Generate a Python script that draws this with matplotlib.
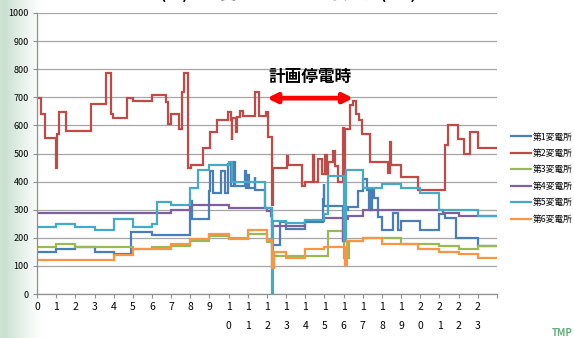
import matplotlib
matplotlib.use("Agg")
import matplotlib.pyplot as plt
import numpy as np

plt.rcParams['font.family'] = ['Noto Sans CJK JP', 'DejaVu Sans']

# hour labels and series names
hours = list(range(24))
names = ["第1変電所", "第2変電所", "第3変電所", "第4変電所", "第5変電所", "第6変電所"]
colors = ["#4A7EBB", "#BE4B48", "#98B954", "#7D60A0", "#46AAC5", "#F79646"]

# step data: time of change (h) and kW from that time on
t1 = [0, 1, 2, 3, 4, 4.92, 6.0, 8.0, 8.07, 9.0, 9.05, 9.2, 9.6, 9.8, 9.95, 10.1, 10.28, 10.34, 10.85, 10.9,
      11.0, 11.05, 11.35, 11.4, 11.9, 12.2, 12.28, 12.7, 13.0, 14.0, 14.9, 14.95, 15.0, 15.97, 16.05, 16.23,
      16.75, 17.0, 17.2, 17.3, 17.35, 17.44, 17.48, 17.6, 17.8, 18.0, 18.57, 18.83, 19.0, 19.96, 21.0, 21.27,
      21.87, 23.0, 24]
kw1 = [149, 159, 168, 149, 141, 220, 209, 330, 268, 365, 436, 359, 436, 359, 462, 383, 470, 383, 436, 376,
       424, 376, 418, 370, 306, 276, 173, 255, 232, 255, 338, 390, 312, 188, 300, 308,
       365, 409, 371, 300, 371, 300, 371, 341, 273, 229, 288, 229, 259, 229, 285, 270,
       200, 171, 171]

t2 = [0, 0.23, 0.4, 0.97, 1.02, 1.15, 1.5, 2.8, 3.58, 3.84, 3.97, 4.71, 5.0, 6.02, 6.75, 6.83, 7.0, 7.41,
      7.58, 7.65, 7.9, 8.05, 8.66, 9.01, 9.39, 9.96, 10.1, 10.15, 10.2, 10.4, 10.45, 10.6, 10.75, 11.35,
      11.6, 11.95, 12.05, 12.25, 12.32, 13.02, 13.08, 13.8, 14.0, 14.38, 14.45, 14.65, 14.85, 15.05, 15.12,
      15.2, 15.45, 15.55, 15.7, 15.97, 16.02, 16.08, 16.35, 16.5, 16.65, 16.8, 16.95, 17.4, 18.3, 18.43,
      18.48, 19.01, 19.88, 21.27, 21.44, 21.96, 22.3, 22.57, 23.0, 24]
kw2 = [698, 639, 556, 447, 570, 647, 579, 676, 786, 639, 627, 698, 686, 708, 682, 606, 639, 588,
       718, 786, 449, 459, 518, 576, 618, 647, 620, 547, 625, 576, 630, 653, 635, 718,
       635, 647, 559, 318, 447, 491, 459, 385, 400, 496, 400, 482, 426, 496, 426,
       470, 510, 455, 400, 590, 400, 588, 671, 688, 641, 618, 571, 471, 429, 541,
       459, 418, 371, 529, 600, 553, 500, 576, 518, 518]

t3 = [0, 1, 2, 5, 6, 7, 8, 9, 10, 11, 12.0, 12.25, 12.3, 15.2, 16.0, 16.3, 17, 19, 21, 22, 23, 24]
kw3 = [168, 179, 168, 161, 168, 171, 188, 206, 200, 212, 185, 125, 136, 224, 129, 188, 200, 179, 171, 159, 171, 171]

t4 = [0, 7, 8, 10, 12.0, 12.25, 14, 15, 15.98, 16.05, 16.23, 17, 21.2, 22, 24]
kw4 = [288, 298, 318, 306, 294, 241, 261, 270, 188, 268, 279, 298, 288, 279, 279]

t5 = [0, 1, 2, 3, 4, 5, 6, 6.25, 7, 8, 8.4, 9, 10, 10.15, 11.9, 12.26, 12.3, 13, 14, 15, 15.2, 16.0,
      16.1, 17, 18, 19, 19.96, 21, 23, 24]
kw5 = [239, 249, 239, 227, 268, 239, 249, 327, 318, 379, 440, 460, 469, 400, 306, 0, 261, 252, 265, 285, 420, 190,
       441, 379, 391, 379, 359, 300, 279, 279]

t6 = [0, 4, 5, 6, 7, 8, 9, 10, 11, 12.0, 12.25, 12.35, 13, 14, 15, 16.05, 16.15, 17, 18, 19.9, 21, 22, 23, 24]
kw6 = [120, 139, 159, 161, 179, 196, 215, 194, 227, 191, 91, 149, 129, 161, 169, 102, 188, 200, 179, 159, 149, 141, 129, 129]

series_t = [t1, t2, t3, t4, t5, t6]
series_kw = [kw1, kw2, kw3, kw4, kw5, kw6]

fig = plt.figure(figsize=(5.74, 3.38), dpi=100)

# slide background strip on the left
bg = fig.add_axes([0, 0, 0.09, 1], zorder=-5)
xs = np.linspace(0, 1, 60)
prof = np.clip(1 - xs / 0.85, 0, 1) ** 1.3
prof[:6] *= np.linspace(0.75, 1, 6)
green = np.array([0.76, 0.86, 0.79])
img = 1 - (1 - green)[None, None, :] * prof[None, :, None]
bg.imshow(np.repeat(img, 2, axis=0), aspect='auto', extent=[0, 1, 0, 1])
bg.axis('off')

ax = fig.add_axes([37 / 574, 44 / 338, 460 / 574, 281 / 338])
ax.set_facecolor('none')

for t, kw, name, c in zip(series_t, series_kw, names, colors):
    ax.step(t, kw, where='post', color=c, lw=1.6, label=name, solid_joinstyle='miter')

ax.set_xlim(0, 24)
ax.set_ylim(0, 1000)
ax.set_yticks(range(0, 1001, 100))
ax.set_xticks(range(0, 25))
xlabels = ["\n".join(str(h)) for h in hours] + [""]
ax.set_xticklabels(xlabels, fontsize=7.5, linespacing=2.1, va='top')
ax.tick_params(axis='x', length=3, width=0.8, color='#909090', pad=3)
ax.tick_params(axis='y', length=3, width=0.8, color='#909090', labelsize=6.5, pad=3)
ax.grid(axis='y', color='#a6a6a6', lw=0.9)
ax.set_axisbelow(True)
for s in ['top', 'right']:
    ax.spines[s].set_visible(False)
for s in ['left', 'bottom']:
    ax.spines[s].set_color('#909090')
    ax.spines[s].set_linewidth(0.9)

# planned outage annotation
ax.annotate("", xy=(12.0, 697), xytext=(16.5, 697),
            arrowprops=dict(arrowstyle='<|-|>', color='#ff0000', lw=3.4, mutation_scale=14,
                            shrinkA=0, shrinkB=0))
ax.text(14.25, 772, "計画停電時", ha='center', va='center', fontsize=12, fontweight='bold')

fig.legend(loc='upper left', bbox_to_anchor=(508 / 574, 1 - 129 / 338), frameon=False,
           fontsize=6.3, handlelength=2.2, handletextpad=0.2, labelspacing=0.85, borderaxespad=0)

# title, cut at the top edge like the slide
fig.text(100 / 574, 1 - 2.5 / 338, "6月14日(月)　各変電所時間別需要電力(kW) の推移",
         ha='left', va='bottom', fontsize=11.5, fontweight='bold')
fig.text(552 / 574, 2 / 338, "TMP", color='#3c9a5c', fontsize=7, fontweight='bold', alpha=0.8)

fig.savefig("out.png", dpi=100)
